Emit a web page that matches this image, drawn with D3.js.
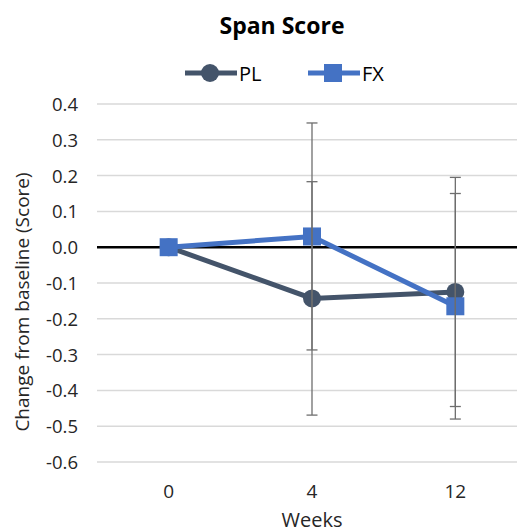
<!DOCTYPE html>
<html>
<head>
<meta charset="utf-8">
<script src="https://cdn.jsdelivr.net/npm/d3@7"></script>
<style>
  body { margin: 0; background: #fff; }
  text { font-family: "Open Sans", Lato, sans-serif; fill: #262626; }
</style>
</head>
<body>
<div id="chart"></div>
<script>
// chart data
var weeks = ["0", "4", "12"];
var seriesNames = ["PL", "FX"];
var plValues = [0, -0.143, -0.125];
var plErrors = [0, 0.326, 0.32];
var fxValues = [0, 0.03, -0.165];
var fxErrors = [0, 0.317, 0.315];
var yTicks = [0.4, 0.3, 0.2, 0.1, 0.0, -0.1, -0.2, -0.3, -0.4, -0.5, -0.6];

var w = 517, h = 532;
// note: "top" is taken by window.top, so plot edges get their own names
var plotLeft = 97, plotRight = 527, plotTop = 104, plotBottom = 462;

var svg = d3.select("#chart").append("svg")
  .attr("width", w)
  .attr("height", h);

var x = d3.scalePoint().domain(weeks).range([plotLeft, plotRight]).padding(0.5);
var y = d3.scaleLinear().domain([-0.6, 0.4]).range([plotBottom, plotTop]);

// gridlines
svg.append("g").selectAll("line")
  .data(yTicks)
  .enter().append("line")
  .attr("x1", plotLeft).attr("x2", w)
  .attr("y1", function(d) { return y(d); })
  .attr("y2", function(d) { return y(d); })
  .attr("stroke", "#d9d9d9")
  .attr("stroke-width", 1.5);

// zero line
svg.append("line")
  .attr("x1", plotLeft).attr("x2", w)
  .attr("y1", y(0)).attr("y2", y(0))
  .attr("stroke", "#000")
  .attr("stroke-width", 2.5);

// y tick labels
svg.append("g").selectAll("text")
  .data(yTicks)
  .enter().append("text")
  .text(function(d) { return d3.format(".1f")(d).replace("−", "-"); })
  .attr("x", 78)
  .attr("y", function(d) { return y(d) + 7; })
  .attr("text-anchor", "end")
  .attr("font-size", 18.5);

// x tick labels
svg.append("g").selectAll("text")
  .data(weeks)
  .enter().append("text")
  .text(function(d) { return d; })
  .attr("x", function(d) { return x(d); })
  .attr("y", 498)
  .attr("text-anchor", "middle")
  .attr("font-size", 19);

// axis titles
svg.append("text")
  .text("Weeks")
  .attr("x", (plotLeft + plotRight) / 2)
  .attr("y", 527)
  .attr("text-anchor", "middle")
  .attr("font-size", 20);

svg.append("text")
  .text("Change from baseline (Score)")
  .attr("transform", "translate(29,302) rotate(-90)")
  .attr("text-anchor", "middle")
  .attr("font-size", 19);

// title
svg.append("text")
  .text("Span Score")
  .attr("x", 282)
  .attr("y", 34)
  .attr("text-anchor", "middle")
  .attr("font-size", 23)
  .attr("font-weight", "bold")
  .style("fill", "#000");

var series = [
  { name: seriesNames[0], values: plValues, errors: plErrors, color: "#44546a", marker: "circle" },
  { name: seriesNames[1], values: fxValues, errors: fxErrors, color: "#4472c4", marker: "square" }
];

var line = d3.line()
  .x(function(d, i) { return x(weeks[i]); })
  .y(function(d) { return y(d); });

function drawMarker(g, s, cx, cy) {
  if (s.marker == "circle") {
    g.append("circle")
      .attr("cx", cx).attr("cy", cy).attr("r", 9)
      .attr("fill", s.color);
  } else {
    g.append("rect")
      .attr("x", cx - 9).attr("y", cy - 9)
      .attr("width", 18).attr("height", 18)
      .attr("fill", s.color);
  }
}

series.forEach(function(s) {
  var g = svg.append("g");
  g.append("path")
    .datum(s.values)
    .attr("d", line)
    .attr("fill", "none")
    .attr("stroke", s.color)
    .attr("stroke-width", 5);
  s.values.forEach(function(v, i) {
    drawMarker(g, s, x(weeks[i]), y(v));
  });
});

// error bars
series.forEach(function(s) {
  var g = svg.append("g");
  s.values.forEach(function(v, i) {
    if (s.errors[i] == 0) return;
    var cx = x(weeks[i]);
    var hi = y(v + s.errors[i]), lo = y(v - s.errors[i]);
    g.append("line")
      .attr("x1", cx).attr("x2", cx)
      .attr("y1", hi).attr("y2", lo)
      .attr("stroke", "#6e6e6e").attr("stroke-width", 1.3);
    [hi, lo].forEach(function(yy) {
      g.append("line")
        .attr("x1", cx - 5.5).attr("x2", cx + 5.5)
        .attr("y1", yy).attr("y2", yy)
        .attr("stroke", "#6e6e6e").attr("stroke-width", 1.3);
    });
  });
});

// legend
var legendX = [185, 308];
series.forEach(function(s, i) {
  var g = svg.append("g");
  var lx = legendX[i], ly = 73;
  g.append("line")
    .attr("x1", lx).attr("x2", lx + 52)
    .attr("y1", ly).attr("y2", ly)
    .attr("stroke", s.color).attr("stroke-width", 5);
  drawMarker(g, s, lx + 25, ly);
  g.append("text")
    .text(s.name)
    .attr("x", lx + 54)
    .attr("y", ly + 8)
    .attr("font-size", 20)
    .style("fill", "#000");
});
</script>
</body>
</html>
